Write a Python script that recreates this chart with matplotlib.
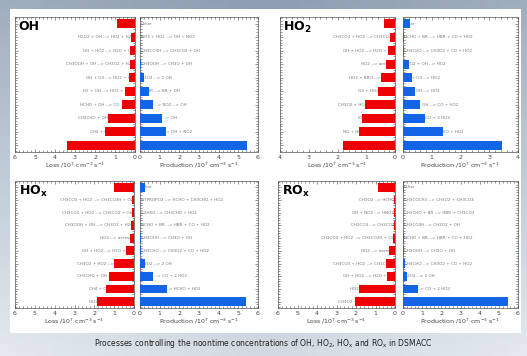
import numpy as np
import matplotlib
matplotlib.use('Agg')
import matplotlib.pyplot as plt
from matplotlib.patches import Rectangle
from matplotlib.ticker import MultipleLocator
from matplotlib.colors import LinearSegmentedColormap

plt.rcParams['font.family'] = ['DejaVu Sans']

# ---- data (10^7 cm-3 s-1), rows listed top -> bottom ----
oh_loss_labels = ['Other', 'H2O2 + OH --> HO2 + H2O', 'OH + HO2 --> H2O + O2',
                  'CH3OOH + OH --> CH3O2 + H2O', 'OH + O3 --> HO2 + O2', 'H2 + OH --> HO2 + H2O',
                  'HCHO + OH --> CO + HO2', 'CH3CHO + OH --> CH3CO3', 'CH4 + OH --> CH3O2',
                  'CO + OH --> HO2 + CO2']
oh_loss = [0.9, 0.2, 0.25, 0.25, 0.3, 0.5, 0.65, 1.35, 1.5, 3.4]
oh_prod_labels = ['Other', 'NO3 + HO2 --> OH + NO2', 'CH3CO3H --> CH3CO2 + OH',
                  'CH3OOH --> CH3O + OH', 'H2O2 --> 2 OH', 'HOBR --> BR + OH',
                  'HONO --> NO2 --> OH', 'O3 + HO2 --> OH', 'NO + HO2 --> OH + NO2',
                  'O1D + H2O --> 2 OH']
oh_prod = [0.0, 0.02, 0.02, 0.05, 0.2, 0.45, 0.65, 1.1, 1.3, 5.45]

ho2_loss_labels = ['Other', 'CH3CO3 + HO2 --> CH3CO3H', 'OH + HO2 --> H2O + O2',
                   'HO2 --> aerosol', 'HO2 + BRO --> HOBR', 'O3 + HO2 --> OH',
                   'CH3O2 + HO2 --> CH3OOH', 'IO + HO2 --> HOI', 'NO + HO2 --> OH + NO2',
                   'HO2 + HO2 --> H2O2']
ho2_loss = [0.4, 0.17, 0.25, 0.3, 0.5, 0.6, 1.05, 1.15, 1.25, 1.8]
ho2_prod_labels = ['Other', 'HCHO + BR --> HBR + CO + HO2', 'CH3CHO --> CH3O2 + CO + HO2',
                   'H2O2 + OH --> HO2', 'OH + O3 --> HO2', 'H2 + OH --> HO2',
                   'HCHO + OH --> CO + HO2', 'HCHO --> CO + 2 HO2', 'CH3O + O2 --> HCHO + HO2',
                   'CO + OH --> HO2 + CO2']
ho2_prod = [0.25, 0.05, 0.05, 0.2, 0.3, 0.4, 0.6, 0.77, 1.4, 3.45]

hox_loss_labels = ['Other', 'CH3CO3 + HO2 --> CH3CO3H + O2', 'CH3CO3 + HO2 --> CH3CO2 + OH',
                   'CH3OOH + OH --> CH3O2 + H2O', 'HO2 --> aerosol', 'OH + HO2 --> H2O + O2',
                   'CH3O2 + HO2 --> CH3OOH', 'CH3CHO + OH --> CH3CO3', 'CH4 + OH --> CH3O2',
                   'HO2 + HO2 --> H2O2']
hox_loss = [1.0, 0.1, 0.1, 0.15, 0.2, 0.4, 1.0, 1.25, 1.4, 1.85]
hox_prod_labels = ['Other', 'HYPROPO2 --> HCHO + CH3CHO + HO2', 'C2H5O --> CH3CHO + HO2',
                   'HCHO + BR --> HBR + CO + HO2', 'CH3OOH --> CH3O + OH',
                   'CH3CHO --> CH3O2 + CO + HO2', 'H2O2 --> 2 OH', 'HCHO --> CO + 2 HO2',
                   'CH3O + O2 --> HCHO + HO2', 'O1D --> 2 OH']
hox_prod = [0.25, 0.0, 0.0, 0.02, 0.05, 0.05, 0.25, 0.65, 1.35, 5.4]

rox_loss_labels = ['Other', 'CH3O2 --> HCHO', 'OH + NO2 --> HNO3', 'CH3CO3 --> CH3CO2',
                   'CH3CO3 + HO2 --> CH3CO2H + O3', 'HO2 --> aerosol',
                   'CH3CO3 + HO2 --> CH3CO3H', 'OH + HO2 --> H2O + O2',
                   'HO2 + HO2 --> H2O2', 'CH3O2 + HO2 --> CH3OOH']
rox_loss = [0.87, 0.05, 0.05, 0.07, 0.1, 0.3, 0.45, 0.4, 1.85, 2.05]
rox_prod_labels = ['Other', 'CH3COCH3 --> CH3O2 + CH3CO3', 'CH3CHO + BR --> HBR + CH3CO3',
                   'CH3CO3H --> CH3O2 + OH', 'HCHO + BR --> HBR + CO + HO2',
                   'CH3OOH --> CH3O + OH', 'CH3CHO --> CH3O2 + CO + HO2', 'H2O2 --> 2 OH',
                   'HCHO --> CO + 2 HO2', 'O1D --> 2 OH']
rox_prod = [0.05, 0.0, 0.0, 0.0, 0.03, 0.03, 0.1, 0.2, 0.8, 5.5]

W, H = 527, 356
fig = plt.figure(figsize=(W / 100, H / 100), dpi=100)

# background (cloudy sky approximated by a smooth gradient)
sky = LinearSegmentedColormap.from_list('sky', ['#8e9db0', '#b9c6d3', '#e6ebf0'])
bg = fig.add_axes([0, 0, 1, 1], zorder=-10)
gx, gy = np.meshgrid(np.linspace(0, 1, 60), np.linspace(1, 0, 60))
bg.imshow(0.35 * np.abs(gx - 0.5) + 0.65 * (1 - gy), cmap=sky, vmin=0, vmax=0.85,
          aspect='auto', extent=[0, 1, 0, 1])
bg.axis('off')
fig.patches.append(Rectangle((10 / W, 1 - 333 / H), 511 / W, 324 / H,
                             transform=fig.transFigure, facecolor='white',
                             edgecolor='none', zorder=-5))


def px(x0, y0, x1, y1):
    return [x0 / W, 1 - y1 / H, (x1 - x0) / W, (y1 - y0) / H]


def style(ax, xmax, major):
    ax.set_xlim(0, xmax)
    ax.set_ylim(9.5, -0.5)
    ax.xaxis.set_major_locator(MultipleLocator(major))
    ax.xaxis.set_minor_locator(MultipleLocator(major / 5))
    ax.yaxis.set_major_locator(MultipleLocator(1))
    ax.yaxis.set_minor_locator(MultipleLocator(0.2))
    ax.tick_params(which='both', direction='in', top=True, right=True, left=True,
                   labelleft=False, labelsize=4.5, pad=2, width=0.4, colors='#444444')
    ax.tick_params(which='major', length=2.5)
    ax.tick_params(which='minor', length=1.2)
    for s in ax.spines.values():
        s.set_linewidth(0.5)
        s.set_color('#555555')
        s.set_linestyle((0, (2, 1)))


def panel(title, loss_labels, loss, prod_labels, prod, lmax, pmax, lbox, pbox):
    y = np.arange(len(loss))
    axl = fig.add_axes(px(*lbox))
    style(axl, lmax, 1)
    axl.invert_xaxis()
    for i, lab in enumerate(loss_labels):
        if i == 0:
            continue
        axl.text(0.05 * lmax / 6, i, lab, ha='right', va='center', fontsize=3,
                 color='#777777', zorder=1)
    axl.barh(y, loss, height=0.7, color='#ee0000', zorder=3)
    axl.set_xlabel('Loss /10$^7$ cm$^{-3}$ s$^{-1}$', fontsize=4.5, labelpad=1,
                   color='#444444')
    axl.text(0.03, 0.975, title, transform=axl.transAxes, ha='left', va='top',
             fontsize=9, fontweight='bold', zorder=5)

    axp = fig.add_axes(px(*pbox))
    style(axp, pmax, 1)
    for i, lab in enumerate(prod_labels):
        axp.text(0.05 * pmax / 6, i, lab, ha='left', va='center', fontsize=3,
                 color='#777777', zorder=1)
    axp.barh(y, prod, height=0.7, color='#1464e8', zorder=3)
    axp.set_xlabel('Production /10$^7$ cm$^{-3}$ s$^{-1}$', fontsize=4.5, labelpad=1,
                   color='#444444')


panel('OH', oh_loss_labels, oh_loss, oh_prod_labels, oh_prod, 6, 6,
      (15, 17, 135, 152), (140, 17, 258, 152))
panel(r'HO$_\mathbf{2}$', ho2_loss_labels, ho2_loss, ho2_prod_labels, ho2_prod, 4, 4,
      (280, 17, 395, 152), (403, 17, 518, 152))
panel(r'HO$_\mathbf{x}$', hox_loss_labels, hox_loss, hox_prod_labels, hox_prod, 6, 6,
      (15, 181, 134, 308), (140, 181, 258, 308))
panel(r'RO$_\mathbf{x}$', rox_loss_labels, rox_loss, rox_prod_labels, rox_prod, 6, 6,
      (278, 181, 395, 308), (403, 181, 518, 308))

fig.text(0.5, 1 - 343 / H,
         r'Processes controlling the noontime concentrations of OH, HO$_\mathrm{2}$, '
         r'HO$_\mathrm{x}$ and RO$_\mathrm{x}$ in DSMACC',
         ha='center', va='center', fontsize=5.5, color='#222222')

fig.savefig('out.png', dpi=100)
